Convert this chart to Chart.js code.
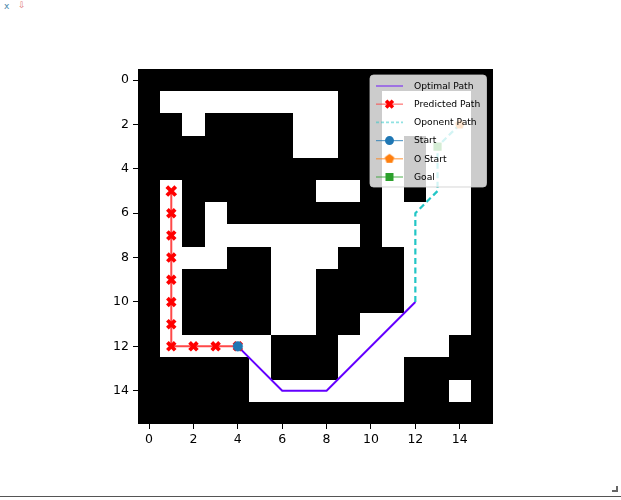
<!DOCTYPE html>
<html><head><meta charset="utf-8">
<script src="https://cdn.jsdelivr.net/npm/chart.js@4.4.1/dist/chart.umd.min.js"></script>
<style>
html,body{margin:0;padding:0;background:#fff;width:621px;height:500px;overflow:hidden;position:relative;font-family:"DejaVu Sans",sans-serif;}
#c{position:absolute;left:0;top:0;}
.tb{position:absolute;font-size:9px;line-height:9px;}
#bline{position:absolute;left:0;top:496px;width:621px;height:1px;background:#555;}
#corner{position:absolute;left:612px;top:486px;width:4px;height:4px;border-right:2px solid #666;border-bottom:2px solid #666;}
</style></head><body>
<span class="tb" style="left:4px;top:2px;color:#4a86a8;">x</span>
<span class="tb" style="left:18px;top:1px;color:#e07878;">⇩</span>
<canvas id="c" width="621" height="500"></canvas>
<div id="bline"></div><div id="corner"></div>
<script>
// ---- data ----
const gridRows = [
 "0000000000000000",
 "0111111110011110",
 "0010000110011110",
 "0000000110010110",
 "0000000000010110",
 "0100000011010110",
 "0101000000011110",
 "0101111111011110",
 "0111001110001110",
 "0100001100001110",
 "0100001100001110",
 "0100001100111110",
 "0111110001111100",
 "0000010001110000",
 "0000011111110010",
 "0000000000000000"
];
const optimalX = [4, 6, 8, 12];
const optimalY = [12, 14, 14, 10];
const predictedX = [1, 1, 1, 1, 1, 1, 1, 1, 2, 3, 4];
const predictedY = [5, 6, 7, 8, 9, 10, 11, 12, 12, 12, 12];
const opponentX = [12, 12, 13, 13, 14];
const opponentY = [10, 6, 5, 3, 2];
const startX = [4], startY = [12];
const oStartX = [14], oStartY = [2];
const goalX = [13], goalY = [3];
const xTicks = [0, 2, 4, 6, 8, 10, 12, 14];
const yTicks = [0, 2, 4, 6, 8, 10, 12, 14];
const legendLabels = ["Optimal Path", "Predicted Path", "Oponent Path", "Start", "O Start", "Goal"];

// ---- styles ----
const C_OPT = '#6400ff', C_PRED = 'rgba(255,20,20,0.78)', C_OPP = '#22c6c6';
const C_START = '#1f77b4', C_OSTART = '#ff7f0e', C_GOAL = '#2ca02c';
const FONT = '"DejaVu Sans"';

function pts(xs, ys){ return xs.map((v,i)=>({x:v, y:ys[i]})); }
function pentagon(r, color){
  const s = Math.ceil(r*2+2); const cv = document.createElement('canvas'); cv.width=s; cv.height=s;
  const g = cv.getContext('2d'); g.beginPath();
  for(let i=0;i<5;i++){ const a=-Math.PI/2+i*2*Math.PI/5; g.lineTo(s/2+r*Math.cos(a), s/2+r*Math.sin(a)); }
  g.closePath(); g.fillStyle=color; g.fill(); return cv;
}
const pentImg = pentagon(5, C_OSTART);

const gridPlugin = {
  id: 'gridImage',
  beforeDatasetsDraw(chart){
    const {ctx, scales:{x, y}} = chart;
    ctx.save();
    const L = x.getPixelForValue(-0.5), R = x.getPixelForValue(15.5);
    const T = y.getPixelForValue(-0.5), B = y.getPixelForValue(15.5);
    ctx.fillStyle = '#000';
    ctx.fillRect(L, T, R-L, B-T);
    for(let r=0;r<gridRows.length;r++){
      for(let c=0;c<gridRows[r].length;c++){
        if(gridRows[r][c] !== '1') continue;
        const x0 = Math.round(x.getPixelForValue(c-0.5)), x1 = Math.round(x.getPixelForValue(c+0.5));
        const y0 = Math.round(y.getPixelForValue(r-0.5)), y1 = Math.round(y.getPixelForValue(r+0.5));
        ctx.fillStyle = '#fff';
        ctx.fillRect(x0, y0, x1-x0, y1-y0);
      }
    }
    ctx.restore();
  },
  afterDatasetsDraw(chart){
    const {ctx, chartArea:a} = chart;
    // legend
    const bx = a.right - 123, by = a.top + 6, bw = 116.5, bh = 112;
    ctx.save();
    ctx.beginPath();
    ctx.roundRect(bx, by, bw, bh, 3.5);
    ctx.fillStyle = 'rgba(255,255,255,0.8)';
    ctx.fill();
    ctx.strokeStyle = 'rgba(204,204,204,0.8)';
    ctx.lineWidth = 1;
    ctx.stroke();
    const hx0 = bx + 6, hx1 = bx + 33, hc = (hx0+hx1)/2, tx = bx + 44;
    const rowY = i => by + 11 + i*18.2;
    ctx.lineCap = 'butt';
    // optimal
    let yy = rowY(0);
    ctx.strokeStyle = C_OPT; ctx.globalAlpha = 0.55; ctx.lineWidth = 1.6;
    ctx.beginPath(); ctx.moveTo(hx0, yy); ctx.lineTo(hx1, yy); ctx.stroke();
    // predicted
    yy = rowY(1);
    ctx.strokeStyle = 'rgb(255,60,60)'; ctx.globalAlpha = 0.55;
    ctx.beginPath(); ctx.moveTo(hx0, yy); ctx.lineTo(hx1, yy); ctx.stroke();
    ctx.globalAlpha = 1; ctx.strokeStyle = 'red'; ctx.lineWidth = 3.6;
    ctx.beginPath(); ctx.moveTo(hc-3.4, yy-3.4); ctx.lineTo(hc+3.4, yy+3.4);
    ctx.moveTo(hc+3.4, yy-3.4); ctx.lineTo(hc-3.4, yy+3.4); ctx.stroke();
    // opponent
    yy = rowY(2);
    ctx.strokeStyle = C_OPP; ctx.globalAlpha = 0.5; ctx.lineWidth = 1.6; ctx.setLineDash([3,2]);
    ctx.beginPath(); ctx.moveTo(hx0, yy); ctx.lineTo(hx1, yy); ctx.stroke();
    ctx.setLineDash([]);
    // start
    yy = rowY(3);
    ctx.strokeStyle = C_START; ctx.globalAlpha = 0.7; ctx.lineWidth = 1.2;
    ctx.beginPath(); ctx.moveTo(hx0, yy); ctx.lineTo(hx1, yy); ctx.stroke();
    ctx.globalAlpha = 1; ctx.fillStyle = C_START;
    ctx.beginPath(); ctx.arc(hc, yy, 4.5, 0, Math.PI*2); ctx.fill();
    // o start
    yy = rowY(4);
    ctx.strokeStyle = C_OSTART; ctx.globalAlpha = 0.7;
    ctx.beginPath(); ctx.moveTo(hx0, yy); ctx.lineTo(hx1, yy); ctx.stroke();
    ctx.globalAlpha = 1;
    ctx.drawImage(pentImg, hc - pentImg.width/2, yy - pentImg.height/2);
    // goal
    yy = rowY(5);
    ctx.strokeStyle = C_GOAL; ctx.globalAlpha = 0.7;
    ctx.beginPath(); ctx.moveTo(hx0, yy); ctx.lineTo(hx1, yy); ctx.stroke();
    ctx.globalAlpha = 1; ctx.fillStyle = C_GOAL;
    ctx.fillRect(hc-4, yy-4, 8, 8);
    // labels
    ctx.fillStyle = '#000'; ctx.font = '9.2px ' + FONT; ctx.textBaseline = 'middle'; ctx.textAlign = 'left';
    legendLabels.forEach((t,i)=>ctx.fillText(t, tx, rowY(i)+0.5));
    ctx.restore();
  },
  afterDraw(chart){
    const {ctx, chartArea:a} = chart;
    ctx.save(); ctx.strokeStyle = '#000'; ctx.lineWidth = 1;
    ctx.strokeRect(a.left+0.5, a.top+0.5, a.right-a.left-1, a.bottom-a.top-1);
    ctx.restore();
  }
};

const tickFont = {family: FONT, size: 12.5};
new Chart(document.getElementById('c'), {
  type: 'scatter',
  data: { datasets: [
    { label: legendLabels[0], data: pts(optimalX, optimalY), showLine: true, borderColor: C_OPT, borderWidth: 2,
      pointRadius: 0, order: 6 },
    { label: legendLabels[1], data: pts(predictedX, predictedY), showLine: true, borderColor: C_PRED, borderWidth: 2,
      pointStyle: 'crossRot', pointRadius: ctx => ctx.dataIndex === 0 ? 6.3 : 5.5, pointBorderWidth: 3.8,
      pointBorderColor: 'red', pointBackgroundColor: 'red', order: 5 },
    { label: legendLabels[2], data: pts(opponentX, opponentY), showLine: true, borderColor: C_OPP, borderWidth: 2.2,
      borderDash: [6, 3.5], pointRadius: 0, order: 4 },
    { label: legendLabels[3], data: pts(startX, startY), pointStyle: 'circle', pointRadius: 4.8,
      pointBackgroundColor: C_START, pointBorderColor: C_START, pointBorderWidth: 0.5, order: 3 },
    { label: legendLabels[4], data: pts(oStartX, oStartY), pointStyle: pentImg, pointRadius: 5, order: 2 },
    { label: legendLabels[5], data: pts(goalX, goalY), pointStyle: 'rect', pointRadius: 5.8,
      pointBackgroundColor: C_GOAL, pointBorderColor: C_GOAL, pointBorderWidth: 0, order: 1 }
  ]},
  options: {
    responsive: false, animation: false, events: [],
    layout: { padding: { left: 98, right: 128, top: 69, bottom: 46 } },
    plugins: { legend: { display: false }, tooltip: { enabled: false } },
    scales: {
      x: { type: 'linear', min: -0.5, max: 15.5,
        afterBuildTicks: ax => { ax.ticks = xTicks.map(v => ({value: v})); },
        afterFit: ax => { ax.height = 30; },
        grid: { drawOnChartArea: false, drawTicks: true, tickLength: 5, color: '#000', lineWidth: 1 },
        border: { display: false },
        ticks: { font: tickFont, color: '#000', padding: 3, maxRotation: 0, autoSkip: false }
      },
      y: { type: 'linear', min: -0.5, max: 15.5, reverse: true,
        afterBuildTicks: ax => { ax.ticks = yTicks.map(v => ({value: v})); },
        afterFit: ax => { ax.width = 40; },
        grid: { drawOnChartArea: false, drawTicks: true, tickLength: 5, color: '#000', lineWidth: 1 },
        border: { display: false },
        ticks: { font: tickFont, color: '#000', padding: 4, autoSkip: false }
      }
    }
  },
  plugins: [gridPlugin]
});
</script>
</body></html>
